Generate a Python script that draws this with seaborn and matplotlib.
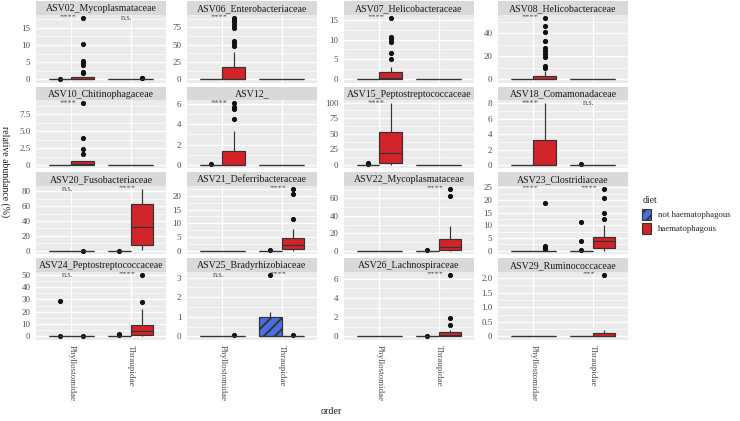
import numpy as np
import pandas as pd
import matplotlib
matplotlib.use("Agg")
import matplotlib.pyplot as plt
import matplotlib.transforms as mtransforms
import seaborn as sns
from matplotlib.patches import Patch

# ---------------- data ----------------
asv_names = ["ASV02_Mycoplasmataceae", "ASV06_Enterobacteriaceae", "ASV07_Helicobacteraceae",
             "ASV08_Helicobacteraceae", "ASV10_Chitinophagaceae", "ASV12_",
             "ASV15_Peptostreptococcaceae", "ASV18_Comamonadaceae", "ASV20_Fusobacteriaceae",
             "ASV21_Deferribacteraceae", "ASV22_Mycoplasmataceae", "ASV23_Clostridiaceae",
             "ASV24_Peptostreptococcaceae", "ASV25_Bradyrhizobiaceae", "ASV26_Lachnospiraceae",
             "ASV29_Ruminococcaceae"]
orders = ["Phyllostomidae", "Thraupidae"]
diets = ["not haematophagous", "haematophagous"]

Z = (0, 0, 0, 0, 0)
# box summaries: (lower whisker, q1, median, q3, upper whisker)
phy_non_box = [Z] * 16
thr_non_box = [Z, Z, Z, Z, Z, Z, Z, Z, Z, Z, Z, Z, Z, (0, 0, 0, 1.0, 1.25), Z, Z]
phy_haem_box = [(0, 0, 0, 0.7, 0.7), (0, 0, 0, 18, 40), (0, 0, 0.3, 1.9, 3.0), (0, 0, 0.3, 3.2, 7.5),
                (0, 0, 0.1, 0.6, 0.6), (0, 0, 0, 1.34, 3.3), (0, 3, 19, 53, 99), (0, 0, 0, 3.3, 8.0),
                Z, Z, Z, Z, Z, Z, Z, Z]
thr_haem_box = [Z, Z, Z, Z, Z, Z, Z, Z,
                (1.4, 7.9, 32.4, 62.5, 83), (0, 0.5, 2, 4.8, 8), (0, 0.5, 4, 13, 28), (0, 1.0, 3.7, 5.5, 10.2),
                (0, 0.8, 4, 9.5, 22), Z, (0, 0, 0.1, 0.45, 0.7), (0, 0, 0.03, 0.12, 0.22)]

# outlying points
phy_non_out = [[0.1], [], [], [], [], [0.08], [2.0, 3.8], [], [], [], [], [], [0.3, 29], [], [], []]
phy_haem_out = [[2.0, 2.2, 4.2, 4.8, 5.3, 10.4, 18], [48, 52, 55, 74, 78, 82, 86, 89],
                [5.1, 6.7, 9.5, 10.2, 10.6, 15.5],
                [9.8, 11.9, 19.3, 22.2, 24.6, 27.6, 33.5, 40.9, 46.8, 53.7],
                [1.7, 2.4, 4.0, 9.1], [4.5, 5.45, 5.7, 6.05], [], [],
                [0.3], [], [], [0.7, 1.3, 1.8, 18.7], [0.3], [0.05], [], []]
thr_non_out = [[], [], [], [], [], [], [], [0.1], [0.3], [0.2], [0.5], [0.3, 3.8, 11.3],
               [1.0, 2.3], [3.15], [0.05], []]
thr_haem_out = [[0.3, 0.5], [], [], [], [], [], [], [], [], [11.5, 20.5, 22.5], [63, 70.6],
                [12.6, 15, 20.8, 24.3], [27.5, 50], [0.05], [1.15, 1.95, 6.45], [2.12]]

sig_phy = ["****", "****", "****", "****", "****", "****", "****", "****",
           "n.s.", "", "", "****", "n.s.", "n.s.", "", ""]
sig_thr = ["n.s.", "", "", "", "", "", "", "n.s.",
           "****", "****", "****", "****", "****", "****", "****", "***"]

y_ticks = [[0, 5, 10, 15], [0, 25, 50, 75], [0, 5, 10, 15], [0, 20, 40],
           [0, 2.5, 5.0, 7.5], [0, 2, 4, 6], [0, 25, 50, 75, 100], [0, 2, 4, 6, 8],
           [0, 20, 40, 60, 80], [0, 5, 10, 15, 20], [0, 20, 40, 60], [0, 5, 10, 15, 20, 25],
           [0, 10, 20, 30, 40, 50], [0, 1, 2, 3], [0, 2, 4, 6], [0, 0.5, 1.0, 1.5, 2.0]]
y_ticklabels = [["0", "5", "10", "15"], ["0", "25", "50", "75"], ["0", "5", "10", "15"], ["0", "20", "40"],
                ["0", "2.5", "5.0", "7.5"], ["0", "2", "4", "6"], ["0", "25", "50", "75", "100"],
                ["0", "2", "4", "6", "8"], ["0", "20", "40", "60", "80"], ["0", "5", "10", "15", "20"],
                ["0", "20", "40", "60"], ["0", "5", "10", "15", "20", "25"],
                ["0", "10", "20", "30", "40", "50"], ["0", "1", "2", "3"], ["0", "2", "4", "6"],
                ["0", "0.5", "1.0", "1.5", "2.0"]]


def sample_from_summary(box, outliers):
    lo, q1, med, q3, hi = box
    j = len(outliers) + 1
    return ([lo] * j + [q1] + [med] * (j - 1) + [med] + [q3] * (j - 1) + [q3] +
            [hi] * (j - len(outliers)) + list(outliers))


rows = []
for i, name in enumerate(asv_names):
    for o, d, box, out in [(orders[0], diets[0], phy_non_box[i], phy_non_out[i]),
                           (orders[0], diets[1], phy_haem_box[i], phy_haem_out[i]),
                           (orders[1], diets[0], thr_non_box[i], thr_non_out[i]),
                           (orders[1], diets[1], thr_haem_box[i], thr_haem_out[i])]:
        for v in sample_from_summary(box, out):
            rows.append((name, o, d, v))
df = pd.DataFrame(rows, columns=["asv", "order", "diet", "value"])

# ---------------- styling ----------------
BLUE = "#4A6EE0"
RED = "#D2232A"
LINE = "#333333"
sns.set_theme(style="white")
plt.rcParams["font.family"] = ["Liberation Serif", "DejaVu Serif"]
plt.rcParams["hatch.linewidth"] = 1.4

W, H = 740, 421
fig = plt.figure(figsize=(W / 100, H / 100), dpi=100)

col_left = [36, 187, 344, 498]
panel_w = 130
row_top = [1, 86.7, 172.4, 258]
strip_h = 13.5
panel_h = 68

for i, name in enumerate(asv_names):
    r, c = divmod(i, 4)
    x0 = col_left[c]
    y0 = row_top[r] + strip_h
    ax = fig.add_axes([x0 / W, 1 - (y0 + panel_h) / H, panel_w / W, panel_h / H])
    sax = fig.add_axes([x0 / W, 1 - (row_top[r] + strip_h) / H, panel_w / W, strip_h / H])
    sax.set_facecolor("#D9D9D9")
    sax.set_xticks([]); sax.set_yticks([])
    for s in sax.spines.values():
        s.set_visible(False)
    sax.text(0.5, 0.45, name, ha="center", va="center", fontsize=7.1, color="#1A1A1A",
             transform=sax.transAxes)

    sub = df[df["asv"] == name]
    sns.boxplot(data=sub, x="order", y="value", hue="diet", order=orders, hue_order=diets,
                palette=[BLUE, RED], width=0.75, gap=0, saturation=1, linecolor=LINE,
                linewidth=0.85, fliersize=2.7, showcaps=False, whis=1.5,
                flierprops=dict(marker="o", markerfacecolor="#111111", markeredgecolor="#111111"),
                legend=False, ax=ax)
    for p in ax.patches:
        fc = p.get_facecolor()
        if fc[2] > 0.6 and fc[0] < 0.5:
            p.set_hatch("///")
            p.set_edgecolor(LINE)

    ymax = sub["value"].max()
    rng = ymax
    ax.set_ylim(-0.05 * rng, ymax + 0.05 * rng)
    ax.set_xlim(-0.6, 1.6)
    ax.set_facecolor("#EBEBEB")
    for s in ax.spines.values():
        s.set_visible(False)
    yt = y_ticks[i]
    ax.set_yticks(yt)
    ax.set_yticklabels(y_ticklabels[i])
    step = yt[1] - yt[0]
    minors = [t + step / 2 for t in [yt[0] - step] + list(yt)]
    minors = [m for m in minors if -0.05 * rng <= m <= ymax * 1.05]
    ax.set_yticks(minors, minor=True)
    ax.grid(True, which="major", color="white", linewidth=1.0)
    ax.grid(True, which="minor", axis="y", color="white", linewidth=0.5)
    ax.set_axisbelow(True)
    ax.tick_params(axis="y", which="major", length=2.5, width=0.6, color=LINE, labelsize=6.5,
                   labelcolor="#4D4D4D", pad=1.5)
    ax.tick_params(axis="y", which="minor", length=0)
    ax.set_xlabel(""); ax.set_ylabel("")
    ax.set_xticks([0, 1])
    if r == 3:
        ax.set_xticklabels(orders, rotation=-90, fontsize=6.5, color="#4D4D4D")
        ax.tick_params(axis="x", length=2.5, width=0.6, color=LINE, pad=1.5)
    else:
        ax.set_xticklabels(["", ""])
        ax.tick_params(axis="x", length=0)

    off = mtransforms.offset_copy(ax.transData, fig=fig, x=0, y=-2.2, units="dots")
    for pos, lab in [(0, sig_phy[i]), (1, sig_thr[i])]:
        if lab:
            ax.text(pos - 0.06, ymax, lab, ha="center", va="baseline", fontsize=6,
                    color="#555555", transform=off)

fig.text(5 / W, 1 - 172 / H, "relative abundance (%)", rotation=270, ha="center", va="center",
         fontsize=7, color="#1A1A1A")
fig.text(331 / W, 1 - 412 / H, "order", ha="center", va="center", fontsize=7.2, color="#1A1A1A")

handles = [Patch(facecolor=BLUE, edgecolor=LINE, hatch="///", linewidth=0.8),
           Patch(facecolor=RED, edgecolor=LINE, linewidth=0.8)]
leg = fig.legend(handles, diets, title="diet", loc="center left",
                 bbox_to_anchor=(637 / W, 1 - 215 / H), frameon=False, fontsize=6.3,
                 title_fontsize=7, handlelength=1.0, handleheight=1.4, alignment="left",
                 handletextpad=0.8, labelspacing=0.45, borderaxespad=0.2)

fig.savefig("out.png", dpi=100)
